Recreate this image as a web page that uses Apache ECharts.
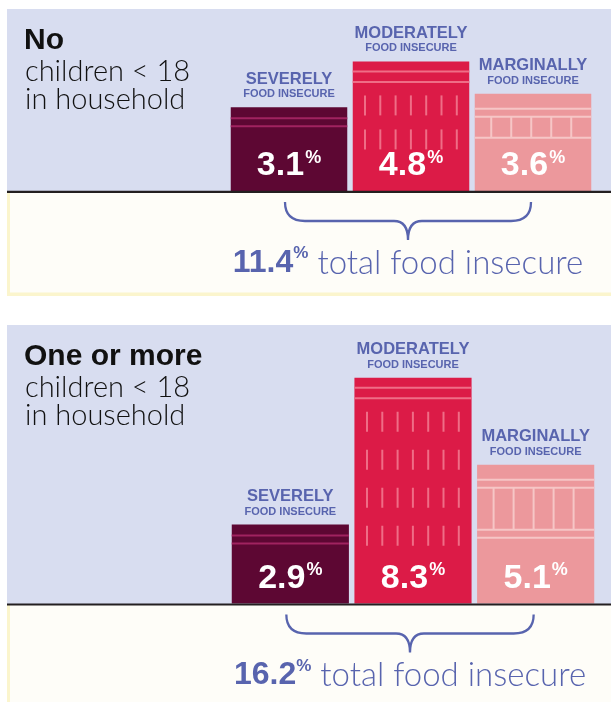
<!DOCTYPE html>
<html><head><meta charset="utf-8">
<script src="https://cdn.jsdelivr.net/npm/echarts@6/dist/echarts.min.js"></script>
<style>html,body{margin:0;padding:0;background:#fff}#c{width:611px;height:702px}</style>
</head><body><div id="c"></div><script>
// ---- data ----
const categories = ['SEVERELY', 'MODERATELY', 'MARGINALLY'];
const categorySub = 'FOOD INSECURE';
const noChildren = [3.1, 4.8, 3.6];
const withChildren = [2.9, 8.3, 5.1];
const totals = [11.4, 16.2];
const panelTitleBold = ['No', 'One or more'];
const panelTitleRest = ['children < 18', 'in household'];
const totalLabel = 'total food insecure';

// ---- style ----
const BLUE = '#5864ae';
const COLORS = ['#5d0733', '#dc1b47', '#ec989c'];
const LAV = '#d8ddf0';
const CREAM = '#fefdf8';
const YEL = '#fbf5cd';
const LIGHT = 'Lato, Roboto, sans-serif';
const BOLD = '"Liberation Sans", Arial, sans-serif';

function barItem(params, api) {
  const i = api.value(0), v = api.value(1);
  const tp = api.coord([i, v]), bp = api.coord([i, 0]);
  const w = api.size([1, 0])[0] * 0.955;
  const x = tp[0] - w / 2, y = tp[1], h = bp[1] - tp[1];
  const ch = [{ type: 'rect', shape: { x: x, y: y, width: w, height: h }, style: { fill: COLORS[i] } }];
  const line = (x1, y1, x2, y2, col, lw) => ch.push({ type: 'line', shape: { x1, y1, x2, y2 }, style: { stroke: col, lineWidth: lw } });
  if (i === 0) {
    const c = '#a02360';
    line(x, y + 11, x + w, y + 11, c, 2);
    line(x, y + 19, x + w, y + 19, c, 2);
  } else if (i === 1) {
    const c = '#ef6d86';
    line(x, y + 10, x + w, y + 10, c, 2);
    line(x, y + 20.5, x + w, y + 20.5, c, 2);
    const sp = h > 180 ? 38 : 34;
    const rows = Math.floor((h - 94) / sp) + 1;
    for (let r = 0; r < rows; r++) {
      const ry = y + 34 + r * sp;
      for (let k = 0; k < 7; k++) {
        const lx = tp[0] - 46 + k * 15.3;
        line(lx, ry, lx, ry + 20, c, 2);
      }
    }
  } else {
    const c = '#f6c6c6';
    const big = h > 120;
    const cellH = big ? 42 : 21;
    line(x, y + 15, x + w, y + 15, c, 2);
    line(x, y + 23, x + w, y + 23, c, 2);
    line(x, y + 23 + cellH, x + w, y + 23 + cellH, c, 2);
    if (big) line(x, y + 31 + cellH, x + w, y + 31 + cellH, c, 2);
    for (let k = 0; k < 5; k++) {
      const lx = x + 16.5 + k * 20;
      line(lx, y + 23, lx, y + 23 + cellH, c, 2);
    }
  }
  ch.push({
    type: 'text', x: tp[0], y: bp[1] - 25,
    style: {
      text: '{n|' + v.toFixed(1) + '}{p|%}', align: 'center', verticalAlign: 'middle',
      rich: {
        n: { fontSize: 34, fontWeight: 'bold', fontFamily: BOLD, fill: '#fff', lineHeight: 34 },
        p: { fontSize: 18, fontWeight: 'bold', fontFamily: BOLD, fill: '#fff', verticalAlign: 'top', lineHeight: 22, padding: [0, 0, 0, 1] }
      }
    }
  });
  ch.push({ type: 'text', x: tp[0], y: y - 28, style: { text: categories[i], fill: BLUE, font: 'bold 16.5px ' + BOLD, align: 'center', verticalAlign: 'middle' } });
  ch.push({ type: 'text', x: tp[0], y: y - 13, style: { text: categorySub, fill: BLUE, font: 'bold 11px ' + BOLD, align: 'center', verticalAlign: 'middle' } });
  return { type: 'group', children: ch };
}

function braceItem(params, api) {
  const total = api.value(2);
  const a = api.coord([0, 0]), b = api.coord([2, 0]);
  const x0 = a[0] - 4, x1 = b[0] - 2, base = a[1];
  const cx = (x0 + x1) / 2;
  const yT = base + 11, yH = base + 30, yP = base + 49;
  const path = 'M' + x0 + ' ' + yT + ' Q' + x0 + ' ' + yH + ' ' + (x0 + 20) + ' ' + yH +
    ' L' + (cx - 14) + ' ' + yH + ' Q' + cx + ' ' + yH + ' ' + cx + ' ' + yP +
    ' Q' + cx + ' ' + yH + ' ' + (cx + 14) + ' ' + yH +
    ' L' + (x1 - 20) + ' ' + yH + ' Q' + x1 + ' ' + yH + ' ' + x1 + ' ' + yT;
  return {
    type: 'group', children: [
      { type: 'path', shape: { pathData: path }, style: { fill: 'none', stroke: BLUE, lineWidth: 2.3 } },
      {
        type: 'text', x: cx, y: base + 72,
        style: {
          text: '{b|' + total.toFixed(1) + '}{p|%}{t| ' + totalLabel + '}', align: 'center', verticalAlign: 'middle',
          rich: {
            b: { fontSize: 32, fontWeight: 'bold', fontFamily: BOLD, fill: BLUE, lineHeight: 36 },
            p: { fontSize: 17, fontWeight: 'bold', fontFamily: BOLD, fill: BLUE, verticalAlign: 'top', lineHeight: 22 },
            t: { fontSize: 33, fontWeight: 300, fontFamily: LIGHT, fill: BLUE, lineHeight: 36 }
          }
        }
      }
    ]
  };
}

const grids = [
  { left: 228, width: 366, top: 29, height: 162 },
  { left: 229, width: 368, top: 331.5, height: 272 }
];
const maxes = [6, 10];
const panels = [noChildren, withChildren];

const graphic = [
  { type: 'rect', shape: { x: 7, y: 9, width: 610, height: 183 }, style: { fill: LAV }, z: -10 },
  { type: 'rect', shape: { x: 7, y: 192, width: 610, height: 104 }, style: { fill: YEL }, z: -10 },
  { type: 'rect', shape: { x: 10, y: 192, width: 610, height: 100.5 }, style: { fill: CREAM }, z: -9 },
  { type: 'rect', shape: { x: 7, y: 325, width: 610, height: 280 }, style: { fill: LAV }, z: -10 },
  { type: 'rect', shape: { x: 7, y: 605, width: 610, height: 110 }, style: { fill: YEL }, z: -10 },
  { type: 'rect', shape: { x: 10, y: 605, width: 610, height: 110 }, style: { fill: CREAM }, z: -9 },
  { type: 'rect', shape: { x: 7, y: 190.8, width: 610, height: 2.2 }, style: { fill: '#231f20' }, z: 10 },
  { type: 'rect', shape: { x: 7, y: 603.4, width: 610, height: 2.2 }, style: { fill: '#231f20' }, z: 10 }
];
const titleY = [41, 357];
titleY.forEach((ty, p) => {
  graphic.push({ type: 'text', x: 24, y: ty, style: { text: panelTitleBold[p], font: 'bold 30px ' + BOLD, fill: '#111', verticalAlign: 'middle' }, z: 5 });
  graphic.push({ type: 'text', x: 25, y: ty + 31, style: { text: panelTitleRest[0], font: '300 29px ' + LIGHT, fill: '#111', verticalAlign: 'middle' }, z: 5 });
  graphic.push({ type: 'text', x: 25, y: ty + 59, style: { text: panelTitleRest[1], font: '300 29px ' + LIGHT, fill: '#111', verticalAlign: 'middle' }, z: 5 });
});

const option = {
  animation: false,
  grid: grids,
  xAxis: grids.map((g, k) => ({ type: 'category', gridIndex: k, data: categories, show: false })),
  yAxis: grids.map((g, k) => ({ type: 'value', gridIndex: k, min: 0, max: maxes[k], show: false })),
  graphic: graphic,
  series: [
    ...panels.map((vals, k) => ({
      type: 'custom', xAxisIndex: k, yAxisIndex: k, renderItem: barItem, clip: false,
      encode: { x: 0, y: 1 }, data: vals.map((v, i) => [i, v])
    })),
    ...totals.map((t, k) => ({
      type: 'custom', xAxisIndex: k, yAxisIndex: k, renderItem: braceItem, clip: false,
      encode: { x: 0, y: 1 }, data: [[1, 0, t]]
    }))
  ]
};
const chart = echarts.init(document.getElementById('c'), null, { renderer: 'canvas' });
chart.setOption(option);
</script></body></html>
